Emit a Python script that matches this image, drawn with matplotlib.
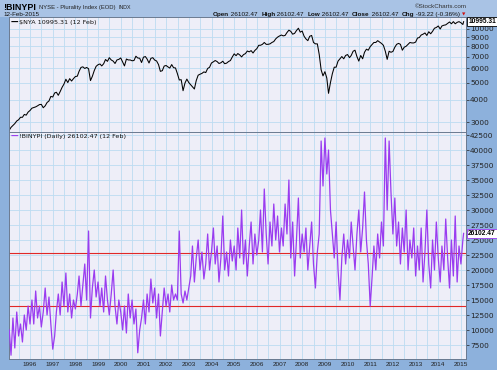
import numpy as np
import pandas as pd
import matplotlib
matplotlib.use("Agg")
import matplotlib.pyplot as plt
import matplotlib.transforms as mtransforms

# $NYA month-end closes, Jan 1995 .. Jan 2015, then last value 12 Feb 2015
nya_values = [
    2700, 2800, 2870, 2940, 3040, 3090, 3190, 3190, 3310, 3280, 3410, 3484,
    3590, 3620, 3650, 3700, 3760, 3770, 3610, 3700, 3860, 3940, 4180, 4148,
    4370, 4410, 4240, 4450, 4700, 4900, 5220, 5000, 5260, 5100, 5260, 5405,
    5430, 5780, 6080, 6130, 6000, 6080, 5980, 5130, 5420, 5840, 6170, 6300,
    6360, 6200, 6380, 6740, 6580, 6900, 6700, 6600, 6400, 6700, 6750, 6876,
    6520, 6200, 6780, 6700, 6700, 6630, 6650, 7030, 6870, 6850, 6480, 6946,
    7000, 6780, 6440, 6840, 6900, 6690, 6610, 6310, 5780, 5830, 6190, 6236,
    6120, 6030, 6310, 6060, 6040, 5620, 5170, 5190, 4500, 4970, 5230, 5000,
    4860, 4740, 4600, 5130, 5500, 5570, 5630, 5740, 5690, 6000, 6090, 6440,
    6540, 6650, 6560, 6400, 6460, 6590, 6380, 6430, 6560, 6650, 6960, 7250,
    7080, 7280, 7150, 6970, 7180, 7270, 7520, 7440, 7560, 7330, 7580, 7754,
    8100, 8100, 8200, 8400, 8200, 8200, 8250, 8400, 8500, 8800, 9000, 9139,
    9250, 9150, 9200, 9550, 9850, 9700, 9350, 9450, 9800, 10100, 9600, 9740,
    9100, 8800, 8600, 9100, 9200, 8400, 8250, 8250, 7200, 5900, 5450, 5757,
    5300, 4350, 5000, 5600, 6100, 6100, 6600, 6800, 7000, 6800, 7100, 7185,
    6900, 7100, 7500, 7600, 7000, 6600, 7100, 6800, 7400, 7700, 7600, 7964,
    8200, 8400, 8400, 8600, 8450, 8300, 8100, 7500, 6750, 7500, 7400, 7477,
    7900, 8200, 8300, 8200, 7600, 7900, 8000, 8200, 8400, 8350, 8350, 8443,
    8900, 8950, 9250, 9350, 9500, 9200, 9650, 9400, 9700, 10100, 10200, 10400,
    10000, 10400, 10500, 10550, 10750, 10950, 10700, 11000, 10700, 10900, 11000, 10839,
    10600, 10995.31,
]

# !BINYPI, one reading per month, same dates
binypi_values = [
    10000, 5800, 12000, 7000, 13000, 9000, 11000, 8000, 12500, 10000, 14000, 11000,
    15000, 11000, 16500, 12000, 14000, 10500, 13000, 17000, 12500, 15500, 11000, 6800,
    9000, 13000, 16000, 12500, 18000, 14000, 19500, 13000, 16000, 12000, 15000, 13500,
    16000, 19000, 14000, 17500, 21000, 15000, 26500, 12000, 17000, 20000, 15500, 18000,
    14000, 17000, 13000, 19000, 15000, 12500, 16000, 20000, 14000, 11000, 15000, 13000,
    10000, 14000, 9500, 16000, 12000, 15000, 11000, 13500, 6200, 10000, 12000, 15000,
    11000, 16000, 13000, 18500, 14500, 17000, 12000, 16000, 9000, 13000, 17000, 14000,
    16000, 13000, 17500, 15000, 16000, 15000, 26500, 16000, 14500, 16500, 15000, 17000,
    19000, 24000, 18000, 22000, 25000, 20000, 23000, 18500, 21000, 26000, 20000, 23000,
    27000, 21000, 24000, 18000, 22000, 29000, 20000, 23000, 19000, 25000, 21500, 24000,
    20000, 27000, 22000, 30000, 21000, 25000, 19000, 24000, 28000, 21000, 26000, 22500,
    25000, 30000, 23000, 33500, 26000, 21000, 28000, 24000, 31000, 25000, 29000, 23000,
    27000, 24000, 31000, 26000, 35000, 22000, 28000, 19000, 25000, 32000, 22000, 26000,
    23000, 27000, 20000, 24000, 28000, 21000, 17000, 23000, 26000, 41500, 34000, 42000,
    36000, 40000, 30000, 26000, 22000, 28000, 20000, 15000, 22000, 26000, 21000, 25000,
    22000, 28000, 24000, 20000, 26000, 30000, 23000, 27000, 33000, 25000, 21000, 14000,
    19000, 24000, 20000, 26000, 22000, 28000, 24000, 42000, 30000, 41500, 33000, 26000,
    32000, 24000, 28000, 21000, 27000, 23000, 30000, 20000, 25000, 22000, 27000, 19000,
    24000, 20000, 27000, 18000, 23000, 30000, 21000, 17000, 25000, 20000, 28000, 22000,
    18000, 24000, 20000, 28500, 22000, 17000, 25000, 19000, 29000, 18000, 24000, 21000,
    25000, 26102.47,
]

months = pd.date_range("1995-01-31", periods=len(nya_values) - 1, freq="ME")
dates = list(months) + [pd.Timestamp("2015-02-12")]
x_dates = np.array([d.year + (d.dayofyear - 1) / 365.25 for d in dates])

nya_ticks = [3000, 4000, 5000, 6000, 7000, 8000, 9000, 10000]
binypi_ticks = list(range(7500, 42501, 2500))
year_labels = list(range(1996, 2016))
red_levels = [22900, 14000]

W, H = 497, 370
frame_bg = "#8db1dc"
header_bg = "#a9c3e5"
plot_bg = "#eeeef8"
grid_c = "#bcdcf2"
purple = "#9a3cf0"
SANS = ["Liberation Sans", "DejaVu Sans"]

fig = plt.figure(figsize=(W / 100, H / 100), dpi=100)
fig.patch.set_facecolor(frame_bg)
plt.rcParams["font.family"] = ["DejaVu Sans"]

# lighter header band
fig.patches.append(plt.Rectangle((0, 1 - 17 / H), 1, 17 / H, transform=fig.transFigure,
                                 facecolor=header_bg, edgecolor="none", zorder=0))

left, right = 9 / W, 466 / W
ax1 = fig.add_axes([left, 1 - 132 / H, right - left, (132 - 17) / H])
ax2 = fig.add_axes([left, 1 - 359 / H, right - left, (359 - 132) / H], sharex=ax1)

xmin, xmax = 1995.07, 2015.22
for ax in (ax1, ax2):
    ax.set_facecolor(plot_bg)
    ax.set_xlim(xmin, xmax)
    for yr in np.arange(1995.5, 2015.6, 0.5):
        ax.axvline(yr, color=grid_c, lw=0.6, zorder=0)
    for s in ax.spines.values():
        s.set_color("#6a7a90")
        s.set_linewidth(0.7)
    ax.yaxis.tick_right()
    ax.tick_params(axis="y", which="both", direction="out", length=2, width=0.5,
                   labelsize=5.3, colors="#222222", pad=1)
    ax.tick_params(axis="x", which="both", length=0)

# top panel: $NYA log scale
ax1.set_yscale("log")
ax1.set_ylim(2637, 11680)
ax1.set_yticks(nya_ticks)
ax1.set_yticklabels([str(t) for t in nya_ticks])
ax1.yaxis.set_minor_locator(matplotlib.ticker.NullLocator())
for t in nya_ticks:
    ax1.axhline(t, color=grid_c, lw=0.6, zorder=0)
ax1.plot(x_dates, nya_values, color="black", lw=0.75)
ax1.tick_params(axis="x", labelbottom=False)
ax1.text(0.004, 0.955, "\u2014", transform=ax1.transAxes, fontsize=5.5, color="black",
         va="center", ha="left", fontweight="bold")
ax1.text(0.021, 0.955, "\\$NYA 10995.31 (12 Feb)", transform=ax1.transAxes, fontsize=4.6,
         va="center", ha="left", color="#111111")

# bottom panel: !BINYPI
ax2.set_ylim(5167, 43000)
ax2.set_yticks(binypi_ticks)
ax2.set_yticklabels([str(t) for t in binypi_ticks])
for t in binypi_ticks:
    ax2.axhline(t, color=grid_c, lw=0.6, zorder=0)
for lv in red_levels:
    ax2.axhline(lv, color="#e02828", lw=0.8, zorder=2)
ax2.plot(x_dates, binypi_values, color=purple, lw=0.9, zorder=3, solid_joinstyle="round")
ax2.set_xticks(year_labels)
ax2.set_xticklabels([str(y) for y in year_labels], fontsize=4.6, color="#222222",
                    family=SANS)
ax2.tick_params(axis="x", pad=2)
ax2.text(0.004, 0.982, "\u2014", transform=ax2.transAxes, fontsize=5.5, color=purple,
         va="center", ha="left", fontweight="bold")
ax2.text(0.021, 0.982, "!BINYPI (Daily) 26102.47 (12 Feb)", transform=ax2.transAxes,
         fontsize=4.6, va="center", ha="left", color="#111111")

# value tags on the right axis
for ax, val, txt, ec in ((ax1, nya_values[-1], "10995.31", "black"),
                         (ax2, binypi_values[-1], "26102.47", purple)):
    tr = mtransforms.blended_transform_factory(ax.transAxes, ax.transData)
    ax.text(1.005, val, txt, transform=tr, fontsize=4.8, fontweight="bold", va="center",
            ha="left", color="black", zorder=10, clip_on=False, family=SANS,
            bbox=dict(boxstyle="square,pad=0.15", facecolor="white", edgecolor=ec, lw=0.6))

# header
def fx(px):
    return px / W

def fy(py):
    return 1 - py / H

fig.text(fx(3), fy(7), "!BINYPI", fontsize=6.4, fontweight="bold", va="center", ha="left",
         family=SANS)
fig.text(fx(39), fy(7.3), "NYSE - Plurality Index (EOD)", fontsize=4.2, va="center",
         ha="left", color="#222222", family=SANS)
fig.text(fx(118.5), fy(7.3), "INDX", fontsize=3.8, va="center", ha="left", color="#222222",
         family=SANS)
fig.text(fx(3), fy(14.5), "12-Feb-2015", fontsize=4.5, va="center", ha="left",
         color="#111111", family=SANS)
fig.text(fx(467), fy(6), "\u00a9StockCharts.com", fontsize=4.5, va="center", ha="right",
         color="#333333", family=SANS)

pieces = [("Open", "bold"), (" 26102.47  ", "normal"), ("High", "bold"),
          (" 26102.47  ", "normal"), ("Low", "bold"), (" 26102.47  ", "normal"),
          ("Close", "bold"), (" 26102.47  ", "normal"), ("Chg", "bold"),
          (" -93.22 (-0.36%)", "normal")]
renderer = fig.canvas.get_renderer()

def place_pieces(size, start, draw):
    xpos = start
    made = []
    for txt, wt in pieces:
        t = fig.text(fx(xpos), fy(14.5), txt, fontsize=size, fontweight=wt, va="center",
                     ha="left", color="#111111", family=SANS)
        xpos += t.get_window_extent(renderer=renderer).width
        made.append(t)
    if not draw:
        for t in made:
            t.remove()
    return xpos

size0 = 4.5
end0 = place_pieces(size0, 213, False)
size1 = size0 * (460 - 213) / (end0 - 213)
xend = place_pieces(size1, 213, True)
fig.text(fx(xend + 1.5), fy(14.5), "\u25bc", fontsize=3.2, color="#d01010", va="center",
         ha="left")

fig.savefig("out.png", dpi=100, facecolor=fig.get_facecolor())
